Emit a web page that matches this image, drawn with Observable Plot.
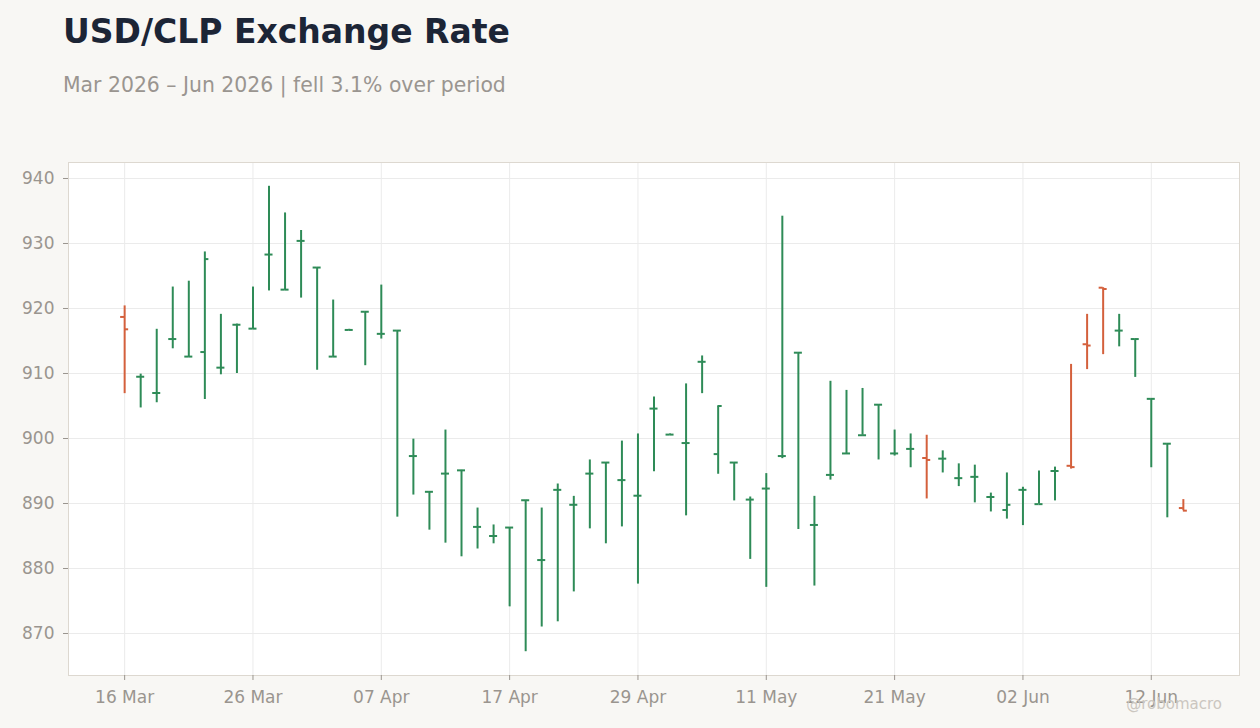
<!DOCTYPE html>
<html>
<head>
<meta charset="utf-8">
<script src="https://cdn.jsdelivr.net/npm/d3@7"></script>
<script src="https://cdn.jsdelivr.net/npm/@observablehq/plot@0.6"></script>
<style>
  html, body { margin: 0; padding: 0; background: #f8f7f4; width: 1260px; height: 728px; overflow: hidden; font-family: "DejaVu Sans", sans-serif; }
  #title { position: absolute; left: 63px; top: 15px; font-size: 33px; line-height: 33px; font-weight: bold; color: #1c2536; white-space: nowrap; }
  #subtitle { position: absolute; left: 63px; top: 75px; font-size: 20.4px; line-height: 20.4px; color: #9a9590; white-space: nowrap; }
  #chart { position: absolute; left: 0; top: 120px; }
  #credit { position: absolute; right: 38px; top: 697px; font-size: 15px; line-height: 15px; color: #cbc6c0; white-space: nowrap; }
</style>
</head>
<body>
<div id="title">USD/CLP Exchange Rate</div>
<div id="subtitle">Mar 2026 – Jun 2026 | fell 3.1% over period</div>
<div id="chart"></div>
<div id="credit">@robomacro</div>
<script>
const dates = [
  "2026-03-16","2026-03-17","2026-03-18","2026-03-19","2026-03-20",
  "2026-03-23","2026-03-24","2026-03-25","2026-03-26","2026-03-27",
  "2026-03-30","2026-03-31","2026-04-01","2026-04-02","2026-04-03",
  "2026-04-06","2026-04-07","2026-04-08","2026-04-09","2026-04-10",
  "2026-04-13","2026-04-14","2026-04-15","2026-04-16","2026-04-17",
  "2026-04-20","2026-04-21","2026-04-22","2026-04-23","2026-04-24",
  "2026-04-27","2026-04-28","2026-04-29","2026-04-30","2026-05-01",
  "2026-05-04","2026-05-05","2026-05-06","2026-05-07","2026-05-08",
  "2026-05-11","2026-05-12","2026-05-13","2026-05-14","2026-05-15",
  "2026-05-18","2026-05-19","2026-05-20","2026-05-21","2026-05-22",
  "2026-05-25","2026-05-26","2026-05-27","2026-05-28","2026-05-29",
  "2026-06-01","2026-06-02","2026-06-03","2026-06-04","2026-06-05",
  "2026-06-08","2026-06-09","2026-06-10","2026-06-11","2026-06-12",
  "2026-06-15","2026-06-16"
];
const open = [
  918.7, 909.5, 907.0, 915.3, 912.6, 913.3, 910.9, 917.5, 916.9, 928.3,
  922.9, 930.4, 926.3, 912.6, 916.7, 919.5, 916.1, 916.6, 897.3, 891.8,
  894.6, 895.1, 886.4, 885.0, 886.3, 890.5, 881.3, 892.1, 889.8, 894.6,
  896.3, 893.6, 891.2, 904.6, 900.6, 899.3, 911.8, 897.6, 896.3, 890.6,
  892.3, 897.3, 913.2, 886.7, 894.4, 897.7, 900.5, 905.2, 897.7, 898.4,
  897.0, 896.9, 893.9, 894.1, 891.0, 889.0, 892.1, 889.9, 895.0, 895.8,
  914.5, 923.2, 916.6, 915.3, 906.1, 899.2, 889.3
];
const high = [
  920.4, 909.9, 916.8, 923.3, 924.2, 928.7, 919.1, 917.6, 923.3, 938.8,
  934.7, 932.0, 926.3, 921.3, 916.8, 919.5, 923.6, 916.6, 899.9, 891.8,
  901.3, 895.1, 889.3, 886.7, 886.3, 890.5, 889.3, 893.0, 891.1, 896.7,
  896.3, 899.6, 900.7, 906.4, 900.7, 908.4, 912.7, 905.0, 896.3, 891.0,
  894.6, 934.2, 913.2, 891.1, 908.8, 907.4, 907.7, 905.2, 901.3, 900.7,
  900.5, 898.1, 896.1, 895.9, 891.6, 894.7, 892.5, 895.0, 895.6, 911.4,
  919.1, 923.2, 919.1, 915.3, 906.1, 899.2, 890.6
];
const low = [
  906.9, 904.7, 905.5, 913.8, 912.5, 906.0, 909.8, 910.0, 916.8, 922.7,
  922.8, 921.6, 910.5, 912.5, 916.6, 911.2, 915.3, 887.9, 891.3, 885.9,
  883.9, 881.8, 883.0, 883.8, 874.1, 867.2, 871.0, 871.8, 876.4, 886.1,
  883.8, 886.4, 877.6, 894.9, 900.5, 888.1, 906.9, 894.5, 890.4, 881.4,
  877.1, 896.9, 886.0, 877.3, 893.6, 897.7, 900.5, 896.7, 897.3, 895.5,
  890.7, 894.7, 892.6, 890.1, 888.7, 887.6, 886.6, 889.9, 890.4, 895.3,
  910.6, 912.9, 914.1, 909.4, 895.5, 887.8, 888.9
];
const close = [
  916.8, 909.5, 907.0, 915.3, 912.6, 927.6, 910.9, 917.5, 916.9, 928.3,
  922.9, 930.4, 926.3, 912.6, 916.7, 919.5, 916.1, 916.6, 897.3, 891.8,
  894.6, 895.1, 886.4, 885.0, 886.3, 890.5, 881.3, 892.1, 889.8, 894.6,
  896.3, 893.6, 891.2, 904.6, 900.6, 899.3, 911.8, 905.0, 896.3, 890.6,
  892.3, 897.3, 913.2, 886.7, 894.4, 897.7, 900.5, 905.2, 897.7, 898.4,
  896.7, 896.9, 893.9, 894.1, 891.0, 889.8, 892.1, 889.9, 895.0, 895.6,
  914.3, 923.0, 916.6, 915.3, 906.1, 899.2, 888.9
];
const xTickIndex = [0, 8, 16, 24, 32, 40, 48, 56, 64];
const yTicks = [870, 880, 890, 900, 910, 920, 930, 940];

const UP = "#2e8b57", DOWN = "#d4603c";
const parse = d3.utcParse("%Y-%m-%d");
const fmt = d3.utcFormat("%d %b");
const data = dates.map((d, i) => ({
  i, date: parse(d), open: open[i], high: high[i], low: low[i], close: close[i],
  dir: close[i] >= open[i] ? "up" : "down"
}));
const half = 0.25;

const chart = Plot.plot({
  width: 1260,
  height: 608,
  marginTop: 42,
  marginBottom: 53,
  marginLeft: 68,
  marginRight: 21,
  style: { background: "transparent", fontFamily: "DejaVu Sans, sans-serif", fontSize: "17px", color: "#9a958f" },
  x: { type: "linear", domain: [-3.5, 69.5], label: null },
  y: { domain: [863.54, 942.46], label: null },
  color: { domain: ["up", "down"], range: [UP, DOWN] },
  marks: [
    Plot.frame({ fill: "white", stroke: null }),
    Plot.gridX(xTickIndex, { stroke: "#ebebeb", strokeOpacity: 1 }),
    Plot.gridY(yTicks, { stroke: "#ebebeb", strokeOpacity: 1 }),
    Plot.frame({ stroke: "#ddd8d0" }),
    Plot.axisY(yTicks, { tickSize: 5, tickPadding: 9, stroke: "#9a958f", fill: "#9a958f", label: null }),
    Plot.axisX(xTickIndex, { tickSize: 5, tickPadding: 10, tickFormat: i => fmt(data[i].date), stroke: "#9a958f", fill: "#9a958f", label: null }),
    Plot.ruleX(data, { x: "i", y1: "low", y2: "high", stroke: "dir", strokeWidth: 2 }),
    Plot.ruleY(data, { y: "open", x1: d => d.i - half, x2: "i", stroke: "dir", strokeWidth: 2 }),
    Plot.ruleY(data, { y: "close", x1: "i", x2: d => d.i + half, stroke: "dir", strokeWidth: 2 })
  ]
});
document.getElementById("chart").appendChild(chart);
</script>
</body>
</html>
